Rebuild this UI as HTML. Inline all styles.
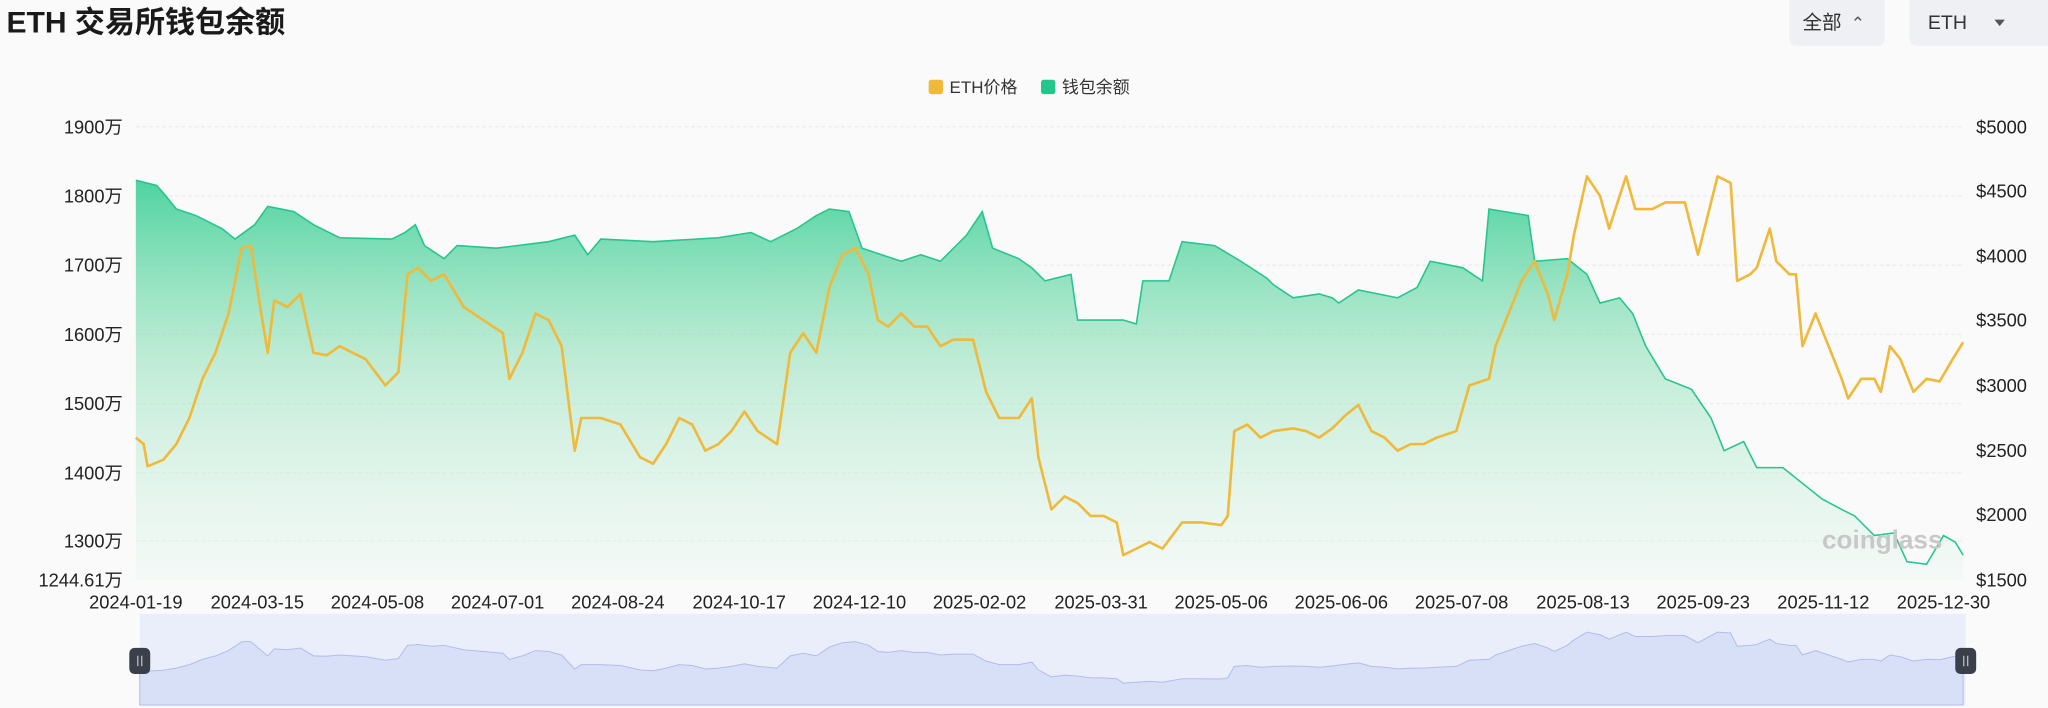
<!DOCTYPE html>
<html><head><meta charset="utf-8"><style>
html,body{margin:0;padding:0;background:#fafafa;}
svg{display:block;font-family:"Liberation Sans","Noto Sans CJK SC",sans-serif;}
.ax{font-family:"Liberation Sans Narrow","Liberation Sans","Noto Sans CJK SC",sans-serif;}
</style></head><body>
<svg width="2048" height="708" viewBox="0 0 1568 542" xmlns="http://www.w3.org/2000/svg">
<defs>
<linearGradient id="g" x1="0" y1="0" x2="0" y2="1"><stop offset="0" stop-color="#3ccf96" stop-opacity="0.9"/><stop offset="0.45" stop-color="#8ee0b8" stop-opacity="0.55"/><stop offset="1" stop-color="#e6f7ee" stop-opacity="0.3"/></linearGradient>
</defs>
<text x="5" y="25" font-size="23" font-weight="bold" fill="#1a1a1a">ETH 交易所钱包余额</text>
<rect x="1370" y="-6" width="73" height="41" rx="5" fill="#eef0f3"/>
<text x="1380" y="22" font-size="15" fill="#333">全部</text>
<text x="1417" y="22" font-size="13" fill="#555">⌃</text>
<rect x="1462" y="-6" width="110" height="41" rx="5" fill="#eef0f3"/>
<text x="1476" y="22" font-size="15" fill="#333">ETH</text>
<path d="M1527 15 l8 0 -4 5z" fill="#555"/>
<rect x="711" y="61" width="11" height="11" rx="2" fill="#f0b93a"/>
<text x="727" y="71" font-size="13" fill="#333">ETH价格</text>
<rect x="797" y="61" width="11" height="11" rx="2" fill="#25c58e"/>
<text x="813" y="71" font-size="13" fill="#333">钱包余额</text>
<g stroke="#ececec" stroke-dasharray="3 2" stroke-width="1">
<line x1="104" x2="1503" y1="97" y2="97"/><line x1="104" x2="1503" y1="150" y2="150"/><line x1="104" x2="1503" y1="203" y2="203"/><line x1="104" x2="1503" y1="256" y2="256"/><line x1="104" x2="1503" y1="309" y2="309"/><line x1="104" x2="1503" y1="362" y2="362"/><line x1="104" x2="1503" y1="414" y2="414"/>
</g>
<g class="ax" font-size="14" fill="#222" text-anchor="end">
<text x="94" y="102">1900万</text><text x="94" y="155">1800万</text><text x="94" y="208">1700万</text><text x="94" y="261">1600万</text><text x="94" y="314">1500万</text><text x="94" y="367">1400万</text><text x="94" y="419">1300万</text><text x="94" y="449">1244.61万</text>
</g>
<g class="ax" font-size="14" fill="#222">
<text x="1513" y="102">$5000</text><text x="1513" y="151">$4500</text><text x="1513" y="201">$4000</text><text x="1513" y="250">$3500</text><text x="1513" y="300">$3000</text><text x="1513" y="350">$2500</text><text x="1513" y="399">$2000</text><text x="1513" y="449">$1500</text>
</g>
<path d="M104 444 L104 138 112 140 120 142 127 150 135 160 150 165 170 175 180 183 195 172 205 158 225 162 240 172 260 182 300 183 310 178 318 172 325 188 340 198 350 188 380 190 420 185 440 180 450 195 460 183 500 185 550 182 575 178 590 185 610 175 625 165 635 160 650 162 660 190 690 200 705 195 720 200 740 180 752 162 760 190 780 198 790 205 800 215 820 210 825 245 860 245 870 248 875 215 895 215 905 185 930 188 950 200 970 213 975 218 990 228 1010 225 1020 228 1025 232 1040 222 1070 228 1085 220 1095 200 1120 205 1135 215 1140 160 1170 165 1175 200 1200 198 1215 210 1225 232 1240 228 1250 240 1260 265 1275 290 1295 298 1310 320 1320 345 1335 338 1345 358 1365 358 1380 370 1395 382 1410 390 1420 395 1435 410 1450 408 1460 430 1475 432 1488 410 1497 415 1503 425 L1503 444 Z" fill="url(#g)"/>
<path d="M104 138 112 140 120 142 127 150 135 160 150 165 170 175 180 183 195 172 205 158 225 162 240 172 260 182 300 183 310 178 318 172 325 188 340 198 350 188 380 190 420 185 440 180 450 195 460 183 500 185 550 182 575 178 590 185 610 175 625 165 635 160 650 162 660 190 690 200 705 195 720 200 740 180 752 162 760 190 780 198 790 205 800 215 820 210 825 245 860 245 870 248 875 215 895 215 905 185 930 188 950 200 970 213 975 218 990 228 1010 225 1020 228 1025 232 1040 222 1070 228 1085 220 1095 200 1120 205 1135 215 1140 160 1170 165 1175 200 1200 198 1215 210 1225 232 1240 228 1250 240 1260 265 1275 290 1295 298 1310 320 1320 345 1335 338 1345 358 1365 358 1380 370 1395 382 1410 390 1420 395 1435 410 1450 408 1460 430 1475 432 1488 410 1497 415 1503 425" fill="none" stroke="#25c58e" stroke-width="1.2"/>
<path d="M104 335 L110 340 113 357 125 352 135 340 145 320 155 290 165 270 175 240 185 190 192 188 200 240 205 270 210 230 220 235 230 225 240 270 250 272 260 265 270 270 280 275 295 295 305 285 312 210 320 205 330 215 340 210 355 235 370 245 385 255 390 290 400 270 410 240 420 245 430 265 440 345 445 320 460 320 475 325 490 350 500 355 510 340 520 320 530 325 540 345 550 340 560 330 570 315 580 330 595 340 605 270 615 255 625 270 635 220 645 195 655 190 665 210 672 245 680 250 690 240 700 250 710 250 720 265 730 260 745 260 755 300 765 320 780 320 790 305 795 350 805 390 815 380 825 385 835 395 845 395 855 400 860 425 870 420 880 415 890 420 905 400 920 400 935 402 940 395 945 330 955 325 965 335 975 330 990 328 1000 330 1010 335 1020 328 1030 318 1040 310 1050 330 1060 335 1070 345 1080 340 1090 340 1100 335 1115 330 1125 295 1140 290 1145 265 1155 240 1165 215 1175 200 1185 225 1190 245 1200 210 1205 180 1215 135 1225 150 1232 175 1240 150 1245 135 1252 160 1265 160 1275 155 1290 155 1300 195 1305 175 1315 135 1325 140 1330 215 1340 210 1345 205 1355 175 1360 200 1370 210 1375 210 1380 265 1390 240 1400 265 1410 290 1415 305 1425 290 1435 290 1440 300 1447 265 1455 275 1465 300 1475 290 1485 292 1495 275 1503 262" fill="none" stroke="#f0b93a" stroke-width="2" stroke-linejoin="round"/>
<text x="1395" y="420" font-size="20" fill="#c8c8c8" font-weight="bold">coinglass</text>
<g class="ax" font-size="14" fill="#222" text-anchor="middle">
<text x="104" y="466">2024-01-19</text><text x="197" y="466">2024-03-15</text><text x="289" y="466">2024-05-08</text><text x="381" y="466">2024-07-01</text><text x="473" y="466">2024-08-24</text><text x="566" y="466">2024-10-17</text><text x="658" y="466">2024-12-10</text><text x="750" y="466">2025-02-02</text><text x="843" y="466">2025-03-31</text><text x="935" y="466">2025-05-06</text><text x="1027" y="466">2025-06-06</text><text x="1119" y="466">2025-07-08</text><text x="1212" y="466">2025-08-13</text><text x="1304" y="466">2025-09-23</text><text x="1396" y="466">2025-11-12</text><text x="1488" y="466">2025-12-30</text>
</g>
<rect x="107" y="470" width="1398" height="70" fill="#eaeefb"/>
<g transform="matrix(1 0 0 0.1345 0 465.8)">
<path d="M104 335 L110 340 113 357 125 352 135 340 145 320 155 290 165 270 175 240 185 190 192 188 200 240 205 270 210 230 220 235 230 225 240 270 250 272 260 265 270 270 280 275 295 295 305 285 312 210 320 205 330 215 340 210 355 235 370 245 385 255 390 290 400 270 410 240 420 245 430 265 440 345 445 320 460 320 475 325 490 350 500 355 510 340 520 320 530 325 540 345 550 340 560 330 570 315 580 330 595 340 605 270 615 255 625 270 635 220 645 195 655 190 665 210 672 245 680 250 690 240 700 250 710 250 720 265 730 260 745 260 755 300 765 320 780 320 790 305 795 350 805 390 815 380 825 385 835 395 845 395 855 400 860 425 870 420 880 415 890 420 905 400 920 400 935 402 940 395 945 330 955 325 965 335 975 330 990 328 1000 330 1010 335 1020 328 1030 318 1040 310 1050 330 1060 335 1070 345 1080 340 1090 340 1100 335 1115 330 1125 295 1140 290 1145 265 1155 240 1165 215 1175 200 1185 225 1190 245 1200 210 1205 180 1215 135 1225 150 1232 175 1240 150 1245 135 1252 160 1265 160 1275 155 1290 155 1300 195 1305 175 1315 135 1325 140 1330 215 1340 210 1345 205 1355 175 1360 200 1370 210 1375 210 1380 265 1390 240 1400 265 1410 290 1415 305 1425 290 1435 290 1440 300 1447 265 1455 275 1465 300 1475 290 1485 292 1495 275 1503 262 L1503 550 L107 550 L107 335 Z" fill="#d8e0f7" stroke="#b0bde8" stroke-width="1" vector-effect="non-scaling-stroke"/>
</g>
<rect x="99" y="496" width="16" height="20" rx="4" fill="#3a3f4a"/>
<rect x="1497" y="496" width="16" height="20" rx="4" fill="#3a3f4a"/>
<g stroke="#bbb" stroke-width="1"><line x1="105.5" y1="502" x2="105.5" y2="510"/><line x1="108.5" y1="502" x2="108.5" y2="510"/><line x1="1503.5" y1="502" x2="1503.5" y2="510"/><line x1="1506.5" y1="502" x2="1506.5" y2="510"/></g>
</svg>
</body></html>
